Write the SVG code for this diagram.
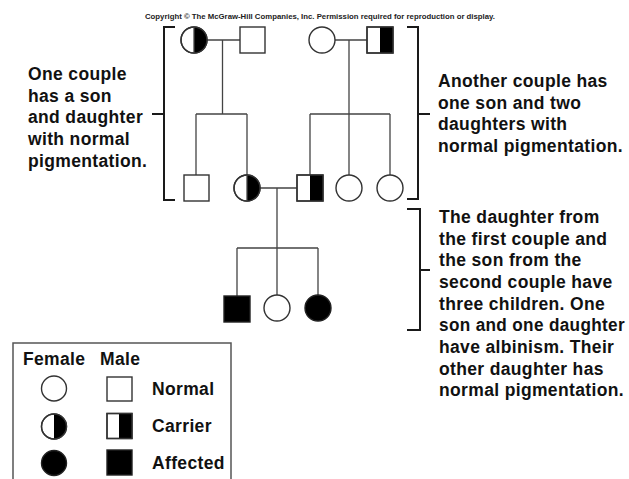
<svg xmlns="http://www.w3.org/2000/svg" width="629" height="479" viewBox="0 0 629 479">
<style>
.sh{fill:#fff;stroke:#333;stroke-width:1.4}
.blk{fill:#000;stroke:none}
.aff{fill:#000;stroke:#222;stroke-width:1.4}
.ln{fill:none;stroke:#444;stroke-width:1.3}
.br{fill:none;stroke:#1a1a1a;stroke-width:2}
.t{font-family:"Liberation Sans",Arial,sans-serif;font-weight:bold;font-size:17.5px;letter-spacing:0.35px;fill:#111}
.cp{font-family:"Liberation Sans",Arial,sans-serif;font-weight:bold;font-size:6.5px;fill:#222}
</style>
<rect width="629" height="479" fill="#fff"/>
<text class="cp" x="145" y="19" textLength="350" lengthAdjust="spacingAndGlyphs">Copyright © The McGraw-Hill Companies, Inc. Permission required for reproduction or display.</text>

<g id="connectors">
<path class="ln" d="M207,40H240M222.5,40V114M196,114H247M196,114V175M247,114V175"/>
<path class="ln" d="M335,40H367M349,40V114M310,114H390M310,114V175M349,114V175M390,114V175"/>
<path class="ln" d="M260,188H297M277,188V248M237,248H318M237,248V296M277,248V295M318,248V295"/>
</g>

<g id="brackets">
<path class="br" d="M175,27H164V200H175M152,114H164"/>
<path class="br" d="M407,27H418V199H407M418,114H430"/>
<path class="br" d="M407,209H420V330H407M420,270H430"/>
</g>

<g id="g1-female-carrier"><circle class="sh" cx="194" cy="40" r="13"/><path class="blk" d="M194,27A13,13 0 0 1 194,53Z"/><circle class="sh" cx="194" cy="40" r="13" style="fill:none"/><line class="ln" x1="194" y1="27" x2="194" y2="53"/></g>
<g id="g1-male-normal"><rect class="sh" x="240" y="27" width="25" height="26"/></g>
<g id="g1-female-normal"><circle class="sh" cx="322" cy="40" r="13"/></g>
<g id="g1-male-carrier"><rect class="sh" x="367" y="27" width="26" height="26"/><rect class="blk" x="380" y="27" width="13" height="26"/><rect class="sh" x="367" y="27" width="26" height="26" style="fill:none"/></g>

<g id="g2-son"><rect class="sh" x="184" y="175" width="25" height="26"/></g>
<g id="g2-daughter-carrier"><circle class="sh" cx="247" cy="188" r="13"/><path class="blk" d="M247,175A13,13 0 0 1 247,201Z"/><circle class="sh" cx="247" cy="188" r="13" style="fill:none"/><line class="ln" x1="247" y1="175" x2="247" y2="201"/></g>
<g id="g2-son-carrier"><rect class="sh" x="297" y="175" width="26" height="26"/><rect class="blk" x="310" y="175" width="13" height="26"/><rect class="sh" x="297" y="175" width="26" height="26" style="fill:none"/></g>
<g id="g2-daughter1"><circle class="sh" cx="349" cy="188" r="13"/></g>
<g id="g2-daughter2"><circle class="sh" cx="390" cy="188" r="13"/></g>

<g id="g3-son-affected"><rect class="aff" x="224" y="296" width="26" height="26"/></g>
<g id="g3-daughter-normal"><circle class="sh" cx="277" cy="308" r="13"/></g>
<g id="g3-daughter-affected"><circle class="aff" cx="318" cy="308" r="13"/></g>

<g id="text-left">
<text class="t" x="28" y="80">One couple</text>
<text class="t" x="28" y="101.7">has a son</text>
<text class="t" x="28" y="123.3">and daughter</text>
<text class="t" x="28" y="145">with normal</text>
<text class="t" x="28" y="166.7">pigmentation.</text>
</g>
<g id="text-right-top">
<text class="t" x="438" y="87">Another couple has</text>
<text class="t" x="438" y="108.7">one son and two</text>
<text class="t" x="438" y="130.4">daughters with</text>
<text class="t" x="438" y="152">normal pigmentation.</text>
</g>
<g id="text-right-bottom">
<text class="t" x="439" y="223">The daughter from</text>
<text class="t" x="439" y="244.7">the first couple and</text>
<text class="t" x="439" y="266.4">the son from the</text>
<text class="t" x="439" y="288">second couple have</text>
<text class="t" x="439" y="309.7">three children. One</text>
<text class="t" x="439" y="331.4" textLength="186" lengthAdjust="spacingAndGlyphs">son and one daughter</text>
<text class="t" x="439" y="353">have albinism. Their</text>
<text class="t" x="439" y="374.7">other daughter has</text>
<text class="t" x="439" y="396.4">normal pigmentation.</text>
</g>

<g id="legend">
<rect x="13" y="343" width="218" height="160" fill="none" stroke="#555" stroke-width="1.5"/>
<text class="t" x="23" y="365">Female</text>
<text class="t" x="100" y="365">Male</text>
<circle class="sh" cx="54" cy="388.5" r="12.5"/>
<rect class="sh" x="107" y="377" width="25" height="24"/>
<text class="t" x="152" y="395">Normal</text>
<circle class="sh" cx="54" cy="426.5" r="12.5"/><path class="blk" d="M54,414A12.5,12.5 0 0 1 54,439Z"/><circle class="sh" cx="54" cy="426.5" r="12.5" style="fill:none"/>
<rect class="sh" x="107" y="413.5" width="25" height="25"/><rect class="blk" x="119" y="413.5" width="13" height="25"/><rect class="sh" x="107" y="413.5" width="25" height="25" style="fill:none"/>
<text class="t" x="152" y="432">Carrier</text>
<circle class="aff" cx="54" cy="463" r="12.5"/>
<rect class="aff" x="107" y="450" width="25" height="25"/>
<text class="t" x="152" y="468.5">Affected</text>
</g>
</svg>
